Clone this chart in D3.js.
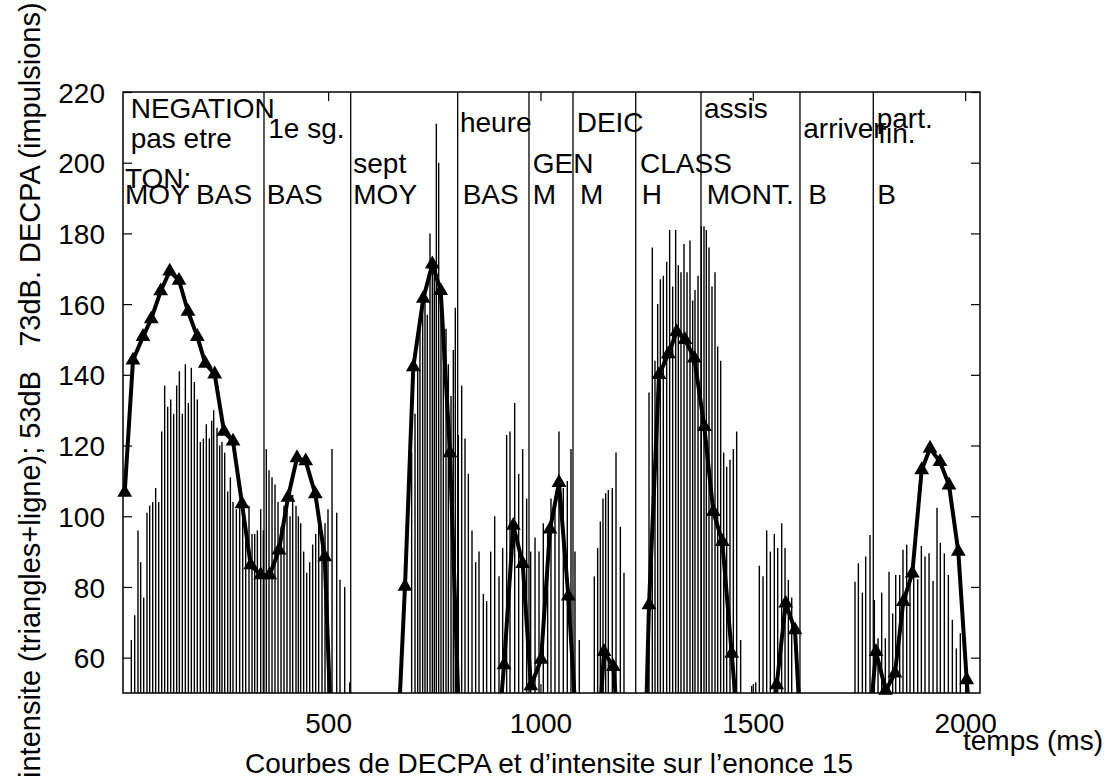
<!DOCTYPE html>
<html><head><meta charset="utf-8">
<script src="https://cdn.jsdelivr.net/npm/d3@7"></script>
<style>
body{margin:0;background:#fff}
text{font-family:"Liberation Sans",Arial,Helvetica,sans-serif;fill:#000}
</style>
</head><body>
<svg id="chart" width="1120" height="783"></svg>
<script>
// ---- DECPA impulses (time in ms, value) ----
const barTimes = [
 36.6,44.5,52.3,58.6,65.7,73.5,79.8,86.9,93.9,101.0,108.1,115.1,122.2,129.3,136.3,143.4,149.7,156.7,163.8,170.9,
 177.9,185.0,192.0,199.1,206.2,213.2,220.3,225.8,230.5,238.4,244.6,250.1,256.4,263.5,269.8,276.0,283.9,291.7,298.8,305.9,
 313.7,320.8,327.1,333.4,341.2,347.5,354.5,360.8,367.9,374.9,382.0,389.1,396.1,403.2,410.3,416.5,424.4,429.9,435.4,442.4,
 449.5,456.6,463.6,470.7,477.8,485.6,492.7,499.7,509.2,520.2,528.0,539.0,550.8,
 696.7,704.6,710.9,716.3,722.6,728.1,733.6,739.9,745.4,750.1,754.8,760.3,765.8,771.3,777.6,783.1,789.4,794.8,799.5,
 806.6,814.5,822.3,830.2,838.8,847.4,855.3,865.5,873.3,882.8,892.2,902.4,911.0,920.4,928.3,939.3,948.7,958.1,967.5,976.9,987.2,996.6,
 1006.7,1016.9,1024.8,1034.2,1043.6,1053.8,1063.2,1071.9,1081.3,1091.5,
 1126.8,1134.7,1141.0,1147.2,1153.5,1159.8,1169.2,1177.9,1188.1,1196.7,
 1255.6,1263.4,1269.7,1276.0,1282.3,1289.3,1297.2,1304.2,1311.3,1318.4,1324.6,1330.9,1338.0,1345.1,1352.1,1358.4,1363.9,1371.0,
 1378.8,1385.1,1390.6,1396.9,1403.9,1411.0,1417.3,1424.3,1431.4,1438.5,1446.3,1454.2,1462.0,1471.4,
 1497.4,1506.8,1515.4,1524.0,1532.7,1541.3,1550.7,1558.6,1568.0,1575.9,1583.7,1591.6,
 1740.7,1748.6,1758.0,1765.8,1776.0,1786.2,1794.9,1803.5,1812.1,1820.8,1829.4,1836.5,1845.9,1853.7,1862.4,1870.2,
 1878.9,1888.3,1896.9,1905.5,1915.0,1924.4,1933.8,1941.6,1951.0,1960.5,1969.9,1979.3,1988.7
];
const barValues = [
 65,72,96,87,77,101,103,104,108,104,124,137,131,133,129,137,141,129,143,132,
 142,138,133,121,122,126,122,127,130,125,120,121,118,107,111,104,102,104,101,96,
 103,95,95,96,102,96,119,113,111,109,104,97,103,104,100,106,103,100,98,90,
 84,87,92,95,98,95,98,102,119,101,82,80,53,
 118,129,142,155,160,162,157,180,172,170,211,200,163,156,153,143,134,147,159,
 123,137,122,112,96,87,90,78,76,90,100,83,91,123,124,132,112,119,105,90,94,90,
 98,95,105,103,124,108,110,119,90,65,
 83,91,98.5,105,106.5,107.4,108,118,97,84,
 135,176,144,160,167,168,172,181,165,181,171,169,177,169,178,161,164,168,
 182,182,181,176,165,169,148,144,118,114,116,119,124,65,
 52,53,86,83,96,90,95,91,98,91,82,77,
 81.5,86.7,78.4,88.6,94.7,76.3,65.5,78.4,65.5,84.3,72.5,83.4,83.4,90.5,91.9,82.7,
 86.7,82.2,91.6,88.6,89.5,81.7,102.4,92.5,89.5,83.4,70.7,62.6,66.9
];

// ---- intensity curve (triangles + line); null = break ----
const intensityTimes = [
 21.0,40.5,64.1,83.6,105.8,127.0,148.9,170.1,192.0,210.8,232.9,254.8,276.0,297.2,317.7,341.2,362.4,384.3,405.5,426.7,447.2,469.8,492.0,513.8,null,
 659.1,681.0,700.6,724.1,745.3,765.1,787.0,808.9,null,
 892.3,914.2,936.1,958.2,977.5,1001.5,1022.5,1043.7,1065.6,1087.5,null,
 1127.7,1149.6,1171.5,1193.4,null,
 1233.7,1255.6,1279.2,1301.1,1320.8,1340.4,1362.3,1385.8,1407.0,1428.2,1450.3,1472.2,null,
 1534.6,1556.3,1577.5,1599.4,1621.3,null,
 1768.2,1790.1,1812.9,1834.8,1854.4,1875.6,1897.7,1917.3,1940.8,1962.0,1983.9,2003.7,2025.6
];
const intensityValues = [
 106.7,144.1,150.8,155.8,163.7,169.3,166.7,157.9,150.8,143.2,140.2,124,121.2,103.5,86.2,83.4,83.4,90.4,105.3,116.5,115.6,106.3,88.5,17,null,
 24,80.1,142.2,161.6,171.3,163.8,117.9,40,null,
 26,57.9,97.4,86.6,52,59.5,96.3,109.5,77.4,35,null,
 20,61.7,57.4,25,null,
 -25,74.9,140,145.9,152.2,149.9,144.7,125.3,101.3,92.8,61.2,30,null,
 35,52.3,75.4,67.8,20,null,
 32,61.7,50.7,55.6,75.8,83.9,113.1,119.2,115.4,108.8,90,53.7,20
];

// ---- segment boundaries (ms) ----
const boundaryTimes = [349.0,553.2,805.1,973.0,1076.6,1224.3,1378.0,1611.1,1783.7];

// ---- annotations (text, time ms, value at baseline) ----
const labelTexts  = ["NEGATION","pas etre","TON:","MOY BAS","1e sg.","BAS","sept","MOY","heure","BAS","GEN","M","DEIC","M","CLASS","H","assis","MONT.","arriver","B","part.","fin.","B"];
const labelTimes  = [35.1,35.1,21.7,21.7,359.1,355.4,559.3,559.3,810.5,816.9,981.7,981.7,1085.3,1093.1,1234.4,1238.4,1385.1,1391.4,1618.9,1630.7,1791.7,1795.5,1793.1];
const labelValues = [212.6,204.1,192.8,188.2,206.9,188.2,197.0,188.2,208.8,188.2,197.0,188.2,208.8,188.2,197.0,188.2,212.6,188.2,206.9,188.2,209.7,205.5,188.2];

const xTicks = [500,1000,1500,2000];
const yTicks = [60,80,100,120,140,160,180,200,220];
const xTitle = "Courbes de DECPA et d\u2019intensite sur l\u2019enonce 15";
const yTitle = "intensite (triangles+ligne); 53dB   73dB. DECPA (impulsions)";
const xUnit = "temps (ms)";

// ---- drawing ----
const L = 123, R = 980, T = 92, B = 693;
const x = d3.scaleLinear().domain([17, 2035]).range([L, R]);
const y = d3.scaleLinear().domain([50, 220]).range([B, T]);
const svg = d3.select("#chart");
svg.append("rect").attr("width",1120).attr("height",783).attr("fill","#fff");

svg.append("defs").append("clipPath").attr("id","plot")
  .append("rect").attr("x",L).attr("y",T).attr("width",R-L).attr("height",B-T);

const FS = 28;

// bars
const bars = barTimes.map((t,i)=>({t, v: barValues[i]}));
svg.append("g").attr("clip-path","url(#plot)").selectAll("line").data(bars).join("line")
  .attr("x1",d=>x(d.t)).attr("x2",d=>x(d.t))
  .attr("y1",y(50)).attr("y2",d=>y(d.v))
  .attr("stroke","#000").attr("stroke-width",1.4);

// segment boundaries
svg.append("g").selectAll("line").data(boundaryTimes).join("line")
  .attr("x1",d=>x(d)).attr("x2",d=>x(d)).attr("y1",T).attr("y2",B)
  .attr("stroke","#000").attr("stroke-width",1.3);

// intensity line
const pts = intensityTimes.map((t,i)=>({t, v: intensityValues[i]}));
const line = d3.line().defined(d=>d.t!==null && d.v!==null).x(d=>x(d.t)).y(d=>y(d.v));
svg.append("path").datum(pts).attr("clip-path","url(#plot)")
  .attr("d",line).attr("fill","none").attr("stroke","#000")
  .attr("stroke-width",4).attr("stroke-linejoin","round");

const tri = d3.symbol().type(d3.symbolTriangle).size(95);
svg.append("g").selectAll("path")
  .data(pts.filter(d=>d.t!==null && d.v>=50 && d.v<=220 && d.t>=17 && d.t<=2035))
  .join("path").attr("d",tri)
  .attr("transform",d=>`translate(${x(d.t)},${y(d.v)})`).attr("fill","#000");

// frame
svg.append("rect").attr("x",L).attr("y",T).attr("width",R-L).attr("height",B-T)
  .attr("fill","none").attr("stroke","#000").attr("stroke-width",1.5);

// axes with inward ticks, mirrored
const TL = 9;
const gl = svg.append("g").attr("transform",`translate(${L},0)`)
  .call(d3.axisLeft(y).tickValues(yTicks).tickSize(-TL).tickPadding(20).tickFormat(d3.format("d")));
const gr = svg.append("g").attr("transform",`translate(${R},0)`)
  .call(d3.axisRight(y).tickValues(yTicks).tickSize(-TL).tickFormat(""));
const gb = svg.append("g").attr("transform",`translate(0,${B})`)
  .call(d3.axisBottom(x).tickValues(xTicks).tickSize(-TL).tickPadding(24).tickFormat(d3.format("d")));
const gt = svg.append("g").attr("transform",`translate(0,${T})`)
  .call(d3.axisTop(x).tickValues(xTicks).tickSize(-TL).tickFormat(""));
[gl,gr,gb,gt].forEach(g=>{
  g.select(".domain").remove();
  g.selectAll(".tick line").attr("stroke","#000").attr("stroke-width",1.2);
  g.selectAll("text").attr("font-size",FS).attr("font-family",null).attr("fill","#000");
});
gl.selectAll(".tick text").attr("x",-18).attr("dy","0.36em");
gb.selectAll(".tick text").attr("dy",null).attr("y",40);

// annotations
svg.append("g").selectAll("text").data(labelTexts).join("text")
  .attr("x",(d,i)=>x(labelTimes[i])).attr("y",(d,i)=>y(labelValues[i]))
  .attr("font-size",FS).text(d=>d);

// titles
svg.append("text").attr("x",549).attr("y",773).attr("text-anchor","middle")
  .attr("font-size",FS).text(xTitle);
svg.append("text").attr("x",963).attr("y",750).attr("font-size",FS).text(xUnit);
svg.append("text").attr("transform","translate(40,778) rotate(-90)")
  .attr("font-size",29).style("white-space","pre").text(yTitle);
</script>
</body></html>
